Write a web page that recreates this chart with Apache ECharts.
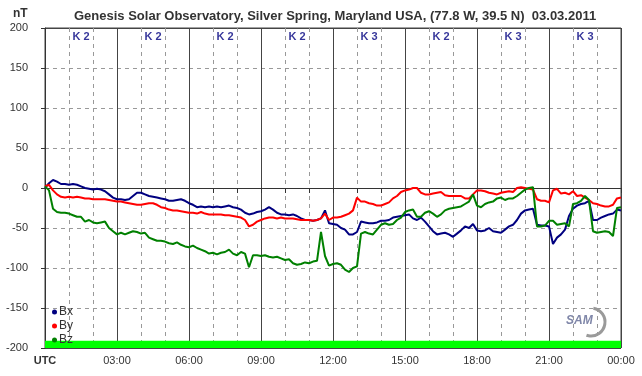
<!DOCTYPE html>
<html>
<head>
<meta charset="utf-8">
<script src="https://cdn.jsdelivr.net/npm/echarts@6/dist/echarts.min.js"></script>
<style>
  html, body { margin: 0; padding: 0; background: #fff; }
  #chart { width: 642px; height: 376px; }
</style>
</head>
<body>
<div id="chart"></div>
<script>
// 10 minute samples, 00:00 .. 24:00 UTC
const bx = [
  0, 6, 10, 8, 5, 5, 4, 5, 4, 2, 0, -1, -2, -1, -2, -4, -8, -12, -14, -14, -15, -14, -10, -6, -6,
  -8, -10, -11, -12, -13, -14, -16, -16, -15, -14, -16, -19, -21, -24, -23, -24, -23, -24, -23, -24, -23, -22, -24, -25,
  -27, -31, -33, -32, -30, -29, -27, -24, -27, -31, -33, -33, -34, -33, -35, -38, -40, -40, -41, -40, -38, -28, -44, -45,
  -46, -50, -52, -58, -58, -55, -42, -43, -44, -44, -43, -41, -41, -40, -37, -36, -35, -34, -33, -38, -40, -37, -42, -48,
  -54, -58, -57, -56, -58, -61, -57, -53, -48, -50, -45, -53, -54, -53, -50, -54, -55, -56, -52, -48, -46, -40, -32, -28,
  -27, -26, -46, -47, -47, -48, -70, -62, -58, -52, -35, -26, -22, -20, -19, -16, -40, -40, -37, -35, -33, -32, -27, -28
];
const by = [
  2, 4, -3, -8, -11, -12, -11, -12, -11, -12, -13, -13, -14, -14, -14, -14, -15, -16, -17, -17, -18, -19, -20, -21, -21,
  -20, -19, -19, -21, -24, -25, -27, -28, -28, -29, -30, -31, -31, -32, -30, -32, -33, -33, -33, -33, -34, -34, -35, -36,
  -37, -40, -48, -46, -42, -40, -38, -37, -37, -38, -37, -38, -38, -38, -39, -40, -40, -40, -41, -40, -38, -32, -40, -37,
  -37, -36, -34, -32, -28, -12, -17, -17, -19, -20, -22, -22, -20, -18, -13, -10, -5, -3, -2, 0, 0, -6, -8, -8,
  -7, -6, -5, -9, -10, -10, -10, -10, -13, -13, -8, -3, -3, -4, -6, -7, -8, -6, -5, -4, -5, 0, 1, 0,
  -1, -2, -14, -16, -16, -18, -3, -1, -7, -6, -8, -4, -10, -9, -12, -15, -19, -20, -22, -23, -23, -21, -13, -12
];
const bz = [
  2, -3, -26, -30, -31, -31, -32, -34, -36, -36, -42, -40, -43, -44, -43, -42, -50, -54, -58, -56, -58, -56, -54, -55, -57,
  -56, -62, -64, -66, -66, -67, -69, -70, -68, -71, -73, -74, -72, -75, -77, -79, -82, -81, -83, -81, -80, -77, -82, -84,
  -80, -82, -99, -84, -84, -85, -84, -86, -87, -86, -88, -90, -89, -94, -96, -95, -93, -94, -92, -91, -55, -85, -97, -95,
  -94, -96, -102, -105, -100, -98, -57, -55, -57, -58, -52, -46, -44, -46, -45, -40, -37, -30, -28, -27, -36, -36, -31, -29,
  -32, -36, -33, -28, -26, -25, -24, -23, -20, -17, -8, -22, -24, -20, -18, -17, -13, -12, -15, -13, -13, -10, -6, -2,
  0, 1, -48, -48, -47, -41, -41, -46, -45, -44, -48, -20, -19, -16, -10, -15, -54, -56, -55, -54, -55, -60, -25, -24
];
const kIndex = [2, 2, 2, 2, 3, 2, 3, 3];
const hourLabels = ['UTC', '03:00', '06:00', '09:00', '12:00', '15:00', '18:00', '21:00', '00:00'];

const FONT = 'Liberation Sans, Arial, sans-serif';
const toPairs = arr => arr.map((v, i) => [i / 6, v]);

const chart = echarts.init(document.getElementById('chart'));

const lineSeries = (name, data, color) => ({
  name: name,
  type: 'line',
  xAxisIndex: 0,
  yAxisIndex: 0,
  data: toPairs(data),
  showSymbol: false,
  symbol: 'circle',
  symbolSize: 4,
  lineStyle: { color: color, width: 2 },
  itemStyle: { color: color },
  animation: false
});

const options = {
  animation: false,
  title: {
    text: 'Genesis Solar Observatory, Silver Spring, Maryland USA, (77.8 W, 39.5 N)  03.03.2011',
    left: 69,
    top: 5,
    textStyle: { fontFamily: FONT, fontSize: 13, fontWeight: 'bold', color: '#333' }
  },
  graphic: [
    { type: 'text', left: 13, top: 8, style: { text: 'nT', font: 'bold 12px ' + FONT, fill: '#333' } },
    { type: 'arc', shape: { cx: 591, cy: 322, r: 14, startAngle: -1.4, endAngle: 1.9 },
      style: { stroke: '#9a9a9a', lineWidth: 3, fill: null } },
    { type: 'text', left: 566, top: 315, style: { text: 'SAM', font: 'italic bold 12px ' + FONT, fill: '#7f86a8' } }
  ],
  legend: {
    data: ['Bx', 'By', 'Bz'],
    orient: 'vertical',
    left: 47,
    top: 301,
    itemGap: 2,
    itemWidth: 5,
    itemHeight: 5,
    icon: 'circle',
    textStyle: { fontFamily: FONT, fontSize: 12, color: '#333', padding: [0, 0, 0, -3] }
  },
  grid: { left: 45, right: 21, top: 28, bottom: 28, show: true, borderColor: '#444', borderWidth: 1 },
  xAxis: [
    {
      type: 'value', min: 0, max: 24, interval: 1, position: 'bottom',
      axisLine: { lineStyle: { color: '#333' } },
      axisTick: { show: true, length: 5, lineStyle: { color: '#333' } },
      axisLabel: { show: false },
      splitLine: { show: true, lineStyle: { color: '#999', type: [4, 4] } }
    },
    {
      type: 'value', min: 0, max: 24, interval: 3, position: 'bottom',
      axisLine: { show: false },
      axisTick: { show: false },
      axisLabel: {
        margin: 7,
        fontFamily: FONT, fontSize: 11, color: '#333',
        formatter: v => v === 0 ? '{b|UTC}' : hourLabels[v / 3],
        rich: { b: { fontFamily: FONT, fontSize: 11, fontWeight: 'bold', color: '#333' } }
      },
      splitLine: { show: true, lineStyle: { color: '#444', width: 1 } }
    }
  ],
  yAxis: [
    {
      type: 'value', min: -200, max: 200, interval: 50,
      axisLine: { show: true, lineStyle: { color: '#333' } },
      axisTick: { show: true, length: 4, lineStyle: { color: '#333' } },
      axisLabel: { margin: 17, fontFamily: FONT, fontSize: 11, color: '#333' },
      splitLine: { show: true, lineStyle: { color: '#999', type: [4, 4] } }
    },
    {
      type: 'value', min: -200, max: 200, interval: 200, position: 'left',
      axisLine: { show: false }, axisTick: { show: false }, axisLabel: { show: false },
      splitLine: { show: true, lineStyle: { color: '#444', width: 1 } }
    }
  ],
  series: [
    Object.assign(lineSeries('Bx', bx, '#000080'), {
      markArea: {
        silent: true,
        itemStyle: { color: '#00ff00' },
        data: [[{ yAxis: -200 }, { yAxis: -191 }]]
      }
    }),
    lineSeries('By', by, '#ff0000'),
    lineSeries('Bz', bz, '#008000'),
    {
      name: 'K',
      type: 'scatter',
      symbolSize: 0,
      data: kIndex.map((k, i) => [1.5 + 3 * i, 189, k]),
      label: {
        show: true,
        position: 'inside',
        formatter: p => 'K ' + p.value[2],
        fontFamily: FONT, fontSize: 11, fontWeight: 'bold', color: '#000080'
      },
      silent: true
    }
  ]
};

chart.setOption(options);
</script>
</body>
</html>
